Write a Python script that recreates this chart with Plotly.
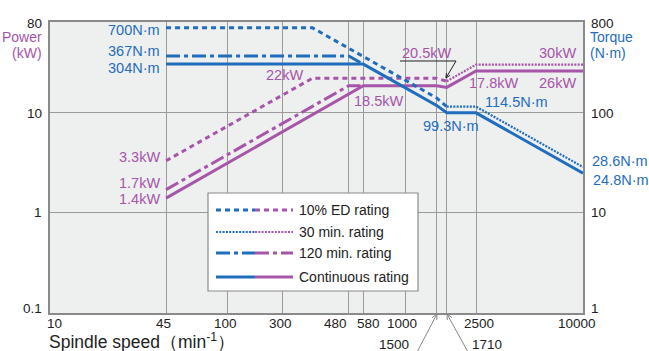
import math
import plotly.graph_objects as go

# ---------------- data ----------------
speed_10ed = [45, 300, 1500, 1710]
torque_10ed = [700, 700, 140, 114.5]
power_10ed = [3.3, 22, 22, 20.5]

speed_30 = [1710, 2500, 10000]
torque_30 = [114.5, 114.5, 28.6]
power_30 = [20.5, 30, 30]

speed_120 = [45, 480, 580]
torque_120 = [367, 367, 304]
power_120 = [1.7, 18.5, 18.5]

speed_cont = [45, 580, 1500, 1710, 2500, 10000]
torque_cont = [304, 304, 117.8, 99.3, 99.3, 24.8]
power_cont = [1.4, 18.5, 18.5, 17.8, 26, 26]

# gridline positions (the reference draws its "300" line at about 203 on the log scale)
x_grid_vals = [10, 45, 100, 203, 480, 580, 1000, 1500, 1710, 2500, 10000]
x_grid_text = ["10", "45", "100", "300", "480", "580", "1000", "1500", "1710", "2500", "10000"]
power_ticks = [0.1, 1, 10, 80]
torque_ticks = [1, 10, 100, 800]
legend_names = ["10% ED rating", "30 min. rating", "120 min. rating", "Continuous rating"]

BLUE = "#1f6dbd"
PURPLE = "#a655a9"
GRID = "#9a9a9a"
TXT = "#222222"
FONT = "Liberation Sans, Arial, sans-serif"

W, H = 649, 351
ML, MR, MT, MB = 50, 66, 22, 38
PW, PH = W - ML - MR, H - MT - MB


def px(x):
    return (x - ML) / PW


def py(y):
    return (H - MB - y) / PH


DASH_ED = "5px,4px"
DASH_30 = "2px,1.3px"
DASH_120 = "14px,4px,4px,4px"

fig = go.Figure()


def add(speed, vals, color, dash, width, axis):
    fig.add_trace(go.Scatter(x=speed, y=vals, mode="lines", yaxis=axis,
                             line=dict(color=color, dash=dash, width=width),
                             showlegend=False, hoverinfo="skip"))


add(speed_10ed, power_10ed, PURPLE, DASH_ED, 3, "y")
add(speed_10ed, torque_10ed, BLUE, DASH_ED, 3, "y2")
add(speed_30, power_30, PURPLE, DASH_30, 2.2, "y")
add(speed_30, torque_30, BLUE, DASH_30, 2.2, "y2")
add(speed_120, power_120, PURPLE, DASH_120, 3, "y")
add(speed_120, torque_120, BLUE, DASH_120, 3, "y2")
add(speed_cont, power_cont, PURPLE, "solid", 3, "y")
add(speed_cont, torque_cont, BLUE, "solid", 3, "y2")

ann = []
shapes = []


def label(text, x, xref, y, yref, color, xanchor="center", size=14.5, xshift=0, yshift=0):
    ann.append(dict(text=text, x=x, xref=xref, y=y, yref=yref, showarrow=False,
                    xanchor=xanchor, yanchor="middle", xshift=xshift, yshift=yshift,
                    font=dict(family=FONT, size=size, color=color)))


def nm(v):
    return f"{v:g}N·m"


def kw(v):
    return f"{v:g}kW"


def arrow(points, color, width=1, head=6):
    """Polyline in pixel coords with an open arrowhead at the last point."""
    d = "M " + " L ".join(f"{px(x):.5f},{py(y):.5f}" for x, y in points)
    shapes.append(dict(type="path", xref="paper", yref="paper", path=d,
                       line=dict(color=color, width=width), layer="above"))
    (x0, y0), (x1, y1) = points[-2], points[-1]
    ang = math.atan2(y1 - y0, x1 - x0)
    parts = []
    for s in (-1, 1):
        a = ang + math.pi + s * 0.45
        parts.append((x1 + head * math.cos(a), y1 + head * math.sin(a)))
    d2 = (f"M {px(parts[0][0]):.5f},{py(parts[0][1]):.5f} L {px(x1):.5f},{py(y1):.5f} "
          f"L {px(parts[1][0]):.5f},{py(parts[1][1]):.5f}")
    shapes.append(dict(type="path", xref="paper", yref="paper", path=d2,
                       line=dict(color=color, width=width), layer="above"))


# ---- x tick labels (placed like the reference, nudged apart where crowded) ----
x_label_shift = {"10": 4, "45": -2.5, "100": -2.5, "300": -2, "480": -13, "580": 5,
                 "1000": -3, "2500": 3, "10000": -6.5}
for v, t in zip(x_grid_vals, x_grid_text):
    if t in x_label_shift:
        label(t, math.log10(v), "x", py(323), "paper", TXT, size=13.5, xshift=x_label_shift[t])

# ---- y tick labels ----
y_label_shift = {0.1: 5, 1: 0, 10: -0.5, 80: -1}
for v in power_ticks:
    label(f"{v:g}", px(44), "paper", math.log10(v), "y", TXT, "right", size=13.5, yshift=y_label_shift[v])
y2_label_shift = {1: 4.5, 10: 0, 100: -1, 800: -1}
for v in torque_ticks:
    label(f"{v:g}", px(588.5), "paper", math.log10(v), "y2", TXT, "left", size=13.5, yshift=y2_label_shift[v])

# torque labels (left)
label(nm(torque_10ed[0]), px(162), "paper", math.log10(torque_10ed[0]), "y2", BLUE, "right", yshift=-2)
label(nm(torque_120[0]), px(162), "paper", math.log10(torque_120[0]), "y2", BLUE, "right", yshift=5)
label(nm(torque_cont[0]), px(162), "paper", math.log10(torque_cont[0]), "y2", BLUE, "right", yshift=-4)
# power labels (left)
label(kw(power_10ed[0]), px(162), "paper", math.log10(power_10ed[0]), "y", PURPLE, "right", yshift=4)
label(kw(power_120[0]), px(162), "paper", math.log10(power_120[0]), "y", PURPLE, "right", yshift=7)
label(kw(power_cont[0]), px(162), "paper", math.log10(power_cont[0]), "y", PURPLE, "right", yshift=-1)
# middle labels
label(kw(power_10ed[1]), px(305), "paper", math.log10(power_10ed[1]), "y", PURPLE, "right", yshift=3)
label(kw(power_cont[1]), px(378), "paper", math.log10(power_cont[1]), "y", PURPLE, yshift=-15)
label(kw(power_10ed[3]), px(426), "paper", py(53), "paper", PURPLE)
label(kw(power_30[1]), px(578), "paper", math.log10(power_30[1]), "y", PURPLE, "right", yshift=12)
label(kw(power_cont[4]), px(578), "paper", math.log10(power_cont[4]), "y", PURPLE, "right", yshift=-12)
label(kw(power_cont[3]), px(493), "paper", py(83), "paper", PURPLE)
label(nm(torque_30[0]), px(516), "paper", py(102), "paper", BLUE)
label(nm(torque_cont[3]), px(451), "paper", py(126), "paper", BLUE)
# right labels
label(nm(torque_30[2]), px(590), "paper", math.log10(torque_30[2]), "y2", BLUE, "left", yshift=6)
label(nm(torque_cont[5]), px(591), "paper", math.log10(torque_cont[5]), "y2", BLUE, "left", yshift=-7)

# axis titles
label("Power", px(44), "paper", py(37), "paper", PURPLE, "right", size=14)
label("(kW)", px(44), "paper", py(53), "paper", PURPLE, "right", size=14)
label("Torque", px(588), "paper", py(37), "paper", BLUE, "left", size=14)
label("(N·m)", px(588), "paper", py(53), "paper", BLUE, "left", size=14)
label("Spindle speed（min<sup>-1</sup>）", px(47), "paper", py(341), "paper", TXT, "left", size=17.5)

# 1500 / 1710 labels with arrows
label(x_grid_text[7], px(394), "paper", py(344), "paper", TXT, size=13.5)
label(x_grid_text[8], px(487), "paper", py(344), "paper", TXT, size=13.5)
arrow([(417, 352), (437, 314)], "#888888", head=6)
arrow([(468, 352), (447, 314)], "#888888", head=6)

# 20.5 kW leader
arrow([(400, 61), (456, 61), (446, 78)], "#222222", head=5)

# legend box
shapes.append(dict(type="rect", xref="paper", yref="paper", x0=px(208), x1=px(418),
                   y0=py(291), y1=py(193), fillcolor="white", line=dict(color="#8a8a8a", width=1.2),
                   layer="above"))
rows = [210, 232, 253, 277]
styles = [(DASH_ED, 3), (DASH_30, 2.2), (DASH_120, 3), ("solid", 3)]
for name, yy, (dash, w) in zip(legend_names, rows, styles):
    shapes.append(dict(type="line", xref="paper", yref="paper", x0=px(216), x1=px(255), y0=py(yy), y1=py(yy),
                       line=dict(color=BLUE, dash=dash, width=w), layer="above"))
    shapes.append(dict(type="line", xref="paper", yref="paper", x0=px(255), x1=px(293), y0=py(yy), y1=py(yy),
                       line=dict(color=PURPLE, dash=dash, width=w), layer="above"))
    label(name, px(297), "paper", py(yy), "paper", TXT, "left", size=14)

fig.update_layout(
    width=W, height=H,
    margin=dict(l=ML, r=MR, t=MT, b=MB, pad=0, autoexpand=False),
    paper_bgcolor="white", plot_bgcolor="#eeefef",
    font=dict(family=FONT, size=13, color=TXT),
    showlegend=False,
    xaxis=dict(type="log", range=[1, 4], tickvals=x_grid_vals, showticklabels=False,
               showgrid=True, gridcolor=GRID, gridwidth=1, zeroline=False,
               showline=True, linecolor="#8a8a8a", linewidth=1.5, mirror=True,
               ticks="", automargin=False),
    yaxis=dict(type="log", range=[-1, math.log10(80)], tickvals=power_ticks, showticklabels=False,
               showgrid=True, gridcolor=GRID, gridwidth=1, zeroline=False,
               showline=True, linecolor="#8a8a8a", linewidth=1.5, mirror=True,
               ticks="", automargin=False),
    yaxis2=dict(type="log", range=[0, math.log10(800)], overlaying="y", side="right",
                tickvals=torque_ticks, showticklabels=False,
                showgrid=False, zeroline=False, showline=False,
                ticks="", automargin=False),
    annotations=ann, shapes=shapes,
)

fig.write_html("out.html", config={"displayModeBar": False},
               post_script="document.body.style.margin='0';document.body.style.padding='0';")
